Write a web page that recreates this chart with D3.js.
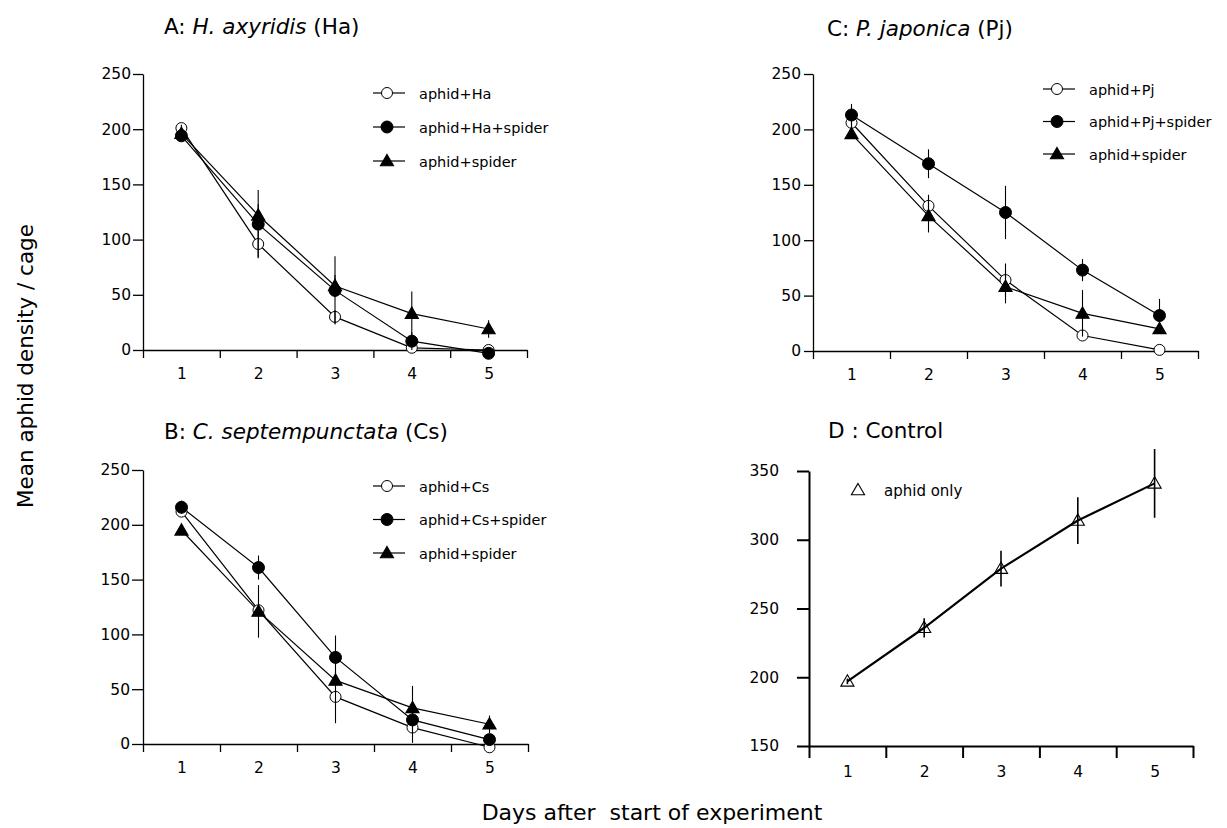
<!DOCTYPE html>
<html>
<head>
<meta charset="utf-8">
<script src="https://cdn.jsdelivr.net/npm/d3@7"></script>
<style>
body { margin: 0; background: #fff; }
svg { font-family: "DejaVu Sans", sans-serif; }
</style>
</head>
<body>
<div id="chart"></div>
<script>
// days on the x axis
const days = [1, 2, 3, 4, 5];

// panel A: H. axyridis
const haAlone = [201, 96, 30, 2, 0];
const haAloneSe = [3, 12, 6, 0, 0];
const haSpider = [194, 114, 54, 8, -3];
const haSpiderSe = [0, 31, 31, 8, 0];
const spiderA = [196, 122, 58, 33, 19];
const spiderASe = [0, 10, 10, 20, 8];

// panel C: P. japonica
const pjAlone = [206, 131, 64, 14, 1];
const pjAloneSe = [4, 10, 15, 0, 0];
const pjSpider = [213, 169, 125, 73, 32];
const pjSpiderSe = [10, 13, 24, 10, 15];
const spiderC = [196, 122, 58, 34, 20];
const spiderCSe = [0, 15, 15, 21, 0];

// panel B: C. septempunctata
const csAlone = [212, 122, 43, 15, -3];
const csAloneSe = [0, 0, 24, 14, 0];
const csSpider = [216, 161, 79, 22, 4];
const csSpiderSe = [6, 11, 20, 0, 0];
const spiderB = [195, 121, 58, 33, 18];
const spiderBSe = [0, 24, 0, 20, 8];

// panel D: control
const control = [197, 236, 279, 314, 341];
const controlSe = [2, 7, 13, 17, 25];

const ticks250 = [0, 50, 100, 150, 200, 250];
const ticks350 = [150, 200, 250, 300, 350];

const width = 1227;
const height = 828;

const svg = d3.select("#chart")
      .append("svg")
      .attr("width", width)
      .attr("height", height);

svg.append("rect").attr("width", width).attr("height", height).attr("fill", "#fff");

const panels = [
  {
    title: ["A: ", "H. axyridis", " (Ha)"], tx: 164, ty: 34,
    x0: 143, x1: 527, yTop: 74, yBot: 350, domain: [0, 250], ticks: ticks250,
    tickSize: 10, tickPad: 2, stroke: 1.3,
    legend: { x: 373, y: 93, gap: 34 },
    series: [
      { name: "aphid+Ha", values: haAlone, se: haAloneSe, shape: "open" },
      { name: "aphid+Ha+spider", values: haSpider, se: haSpiderSe, shape: "filled" },
      { name: "aphid+spider", values: spiderA, se: spiderASe, shape: "tri" }
    ]
  },
  {
    title: ["C: ", "P. japonica", " (Pj)"], tx: 827, ty: 36,
    x0: 813, x1: 1198, yTop: 74, yBot: 351, domain: [0, 250], ticks: ticks250,
    tickSize: 9, tickPad: 3, stroke: 1.3,
    legend: { x: 1043, y: 89, gap: 32.5 },
    series: [
      { name: "aphid+Pj", values: pjAlone, se: pjAloneSe, shape: "open" },
      { name: "aphid+Pj+spider", values: pjSpider, se: pjSpiderSe, shape: "filled" },
      { name: "aphid+spider", values: spiderC, se: spiderCSe, shape: "tri" }
    ]
  },
  {
    title: ["B: ", "C. septempunctata", " (Cs)"], tx: 164, ty: 439,
    x0: 143, x1: 528, yTop: 470, yBot: 744, domain: [0, 250], ticks: ticks250,
    tickSize: 11, tickPad: 2, stroke: 1.3,
    legend: { x: 373, y: 486, gap: 33.5 },
    series: [
      { name: "aphid+Cs", values: csAlone, se: csAloneSe, shape: "open" },
      { name: "aphid+Cs+spider", values: csSpider, se: csSpiderSe, shape: "filled" },
      { name: "aphid+spider", values: spiderB, se: spiderBSe, shape: "tri" }
    ]
  },
  {
    title: ["D : Control", "", ""], tx: 828, ty: 438,
    x0: 809, x1: 1193, yTop: 471, yBot: 746, domain: [150, 350], ticks: ticks350,
    tickSize: 12, tickPad: 18, stroke: 2,
    legend: null,
    series: [
      { name: "aphid only", values: control, se: controlSe, shape: "openTri" }
    ]
  }
];

const tri = d3.symbol().type(d3.symbolTriangle).size(75);

function marker(g, shape, cx, cy) {
  if (shape === "open" || shape === "filled") {
    g.append("circle")
      .attr("cx", cx).attr("cy", cy).attr("r", shape === "open" ? 5.5 : 6)
      .attr("fill", shape === "open" ? "#fff" : "#000")
      .attr("stroke", "#000").attr("stroke-width", 1);
  } else {
    g.append("path")
      .attr("d", tri)
      .attr("transform", `translate(${cx},${cy + 1})`)
      .attr("fill", shape === "tri" ? "#000" : "none")
      .attr("stroke", "#000").attr("stroke-width", 1.1);
  }
}

panels.forEach(p => {
  const g = svg.append("g");

  const x = d3.scaleLinear().domain([0.5, 5.5]).range([p.x0, p.x1]);
  const y = d3.scaleLinear().domain(p.domain).range([p.yBot, p.yTop]);

  // title with italic species name
  const t = g.append("text").attr("x", p.tx).attr("y", p.ty).attr("font-size", 21.5).attr("fill", "#000");
  t.append("tspan").text(p.title[0]);
  if (p.title[1]) t.append("tspan").attr("font-style", "italic").text(p.title[1]);
  if (p.title[2]) t.append("tspan").text(p.title[2]);

  // x axis: tick marks between days, labels at days
  g.append("g")
    .attr("transform", `translate(0,${p.yBot})`)
    .call(d3.axisBottom(x).tickValues([0.5, 1.5, 2.5, 3.5, 4.5, 5.5]).tickFormat("").tickSize(p.stroke > 1.5 ? 12 : 8).tickSizeOuter(0))
    .call(a => a.selectAll("path, line").attr("stroke", "#000").attr("stroke-width", p.stroke));
  g.append("g")
    .attr("transform", `translate(0,${p.yBot})`)
    .call(d3.axisBottom(x).tickValues(days).tickFormat(d3.format("d")).tickSize(0).tickPadding(p.stroke > 1.5 ? 20 : 18))
    .call(a => a.select(".domain").remove())
    .call(a => a.selectAll("text").attr("font-size", 15.5).attr("fill", "#000").attr("font-family", "DejaVu Sans, sans-serif"));

  // y axis
  g.append("g")
    .attr("transform", `translate(${p.x0},0)`)
    .call(d3.axisLeft(y).tickValues(p.ticks).tickSize(p.tickSize).tickPadding(p.tickPad).tickSizeOuter(0))
    .call(a => a.selectAll("path, line").attr("stroke", "#000").attr("stroke-width", p.stroke))
    .call(a => a.selectAll("text").attr("font-size", 15.5).attr("fill", "#000").attr("font-family", "DejaVu Sans, sans-serif"));

  const line = d3.line().x((d, i) => x(days[i])).y(d => y(d));

  p.series.forEach(s => {
    g.append("path")
      .attr("d", line(s.values))
      .attr("fill", "none")
      .attr("stroke", "#000")
      .attr("stroke-width", p.stroke > 1.5 ? 2.2 : 1.2);
  });

  p.series.forEach(s => {
    s.values.forEach((v, i) => marker(g, s.shape, x(days[i]), y(v)));
  });

  // error bars on top
  p.series.forEach(s => {
    g.selectAll(null)
      .data(s.values.map((v, i) => ({ v, se: s.se[i], d: days[i] })).filter(d => d.se > 0))
      .join("line")
      .attr("x1", d => x(d.d)).attr("x2", d => x(d.d))
      .attr("y1", d => y(d.v - d.se)).attr("y2", d => y(d.v + d.se))
      .attr("stroke", "#000").attr("stroke-width", p.stroke > 1.5 ? 1.6 : 1.1);
  });

  // legend
  if (p.legend) {
    p.series.forEach((s, i) => {
      const ly = p.legend.y + i * p.legend.gap;
      g.append("line")
        .attr("x1", p.legend.x).attr("x2", p.legend.x + 32)
        .attr("y1", ly).attr("y2", ly)
        .attr("stroke", "#000").attr("stroke-width", 1.2);
      marker(g, s.shape, p.legend.x + 14, ly);
      g.append("text")
        .attr("x", p.legend.x + 46).attr("y", ly + 5.5)
        .attr("font-size", 14.5).attr("fill", "#000")
        .text(s.name);
    });
  } else {
    marker(g, "openTri", 858, 490);
    g.append("text").attr("x", 884).attr("y", 496).attr("font-size", 15).attr("fill", "#000").text(p.series[0].name);
  }
});

// shared axis titles
svg.append("text")
  .attr("transform", "translate(33,366) rotate(-90)")
  .attr("text-anchor", "middle")
  .attr("font-size", 21.5)
  .text("Mean aphid density / cage");

svg.append("text")
  .attr("x", 652).attr("y", 820)
  .attr("text-anchor", "middle")
  .attr("font-size", 22)
  .attr("xml:space", "preserve")
  .style("white-space", "pre")
  .text("Days after  start of experiment");
</script>
</body>
</html>
